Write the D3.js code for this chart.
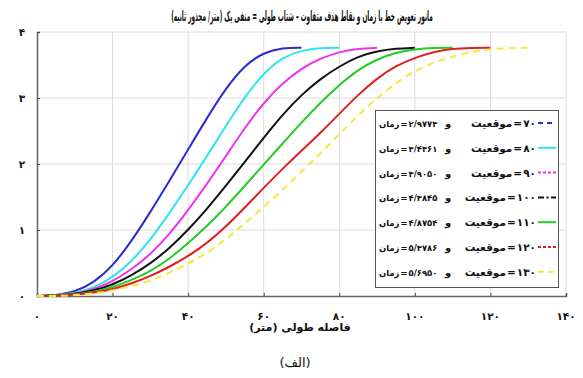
<!DOCTYPE html>
<html>
<head>
<meta charset="utf-8">
<script src="https://cdn.jsdelivr.net/npm/d3@7"></script>
<style>
    body { margin: 0; background: #fff; }
    svg { display: block; }
    .fa { font-family: "DejaVu Sans", "Noto Sans", sans-serif; font-weight: bold; fill: #111; }
</style>
</head>
<body>
<svg id="chart" width="583" height="378"></svg>
<script>
// target positions (m) and manoeuvre times (s)
const positions = [70, 80, 90, 100, 110, 120, 130];
const times = ["2/9773", "3/4361", "3/9050", "4/3845", "4/8754", "5/3786", "5/6950"];
const colors = ["#2b2bd0", "#33e3ec", "#ee33ee", "#111111", "#22cc22", "#e02020", "#f2ea3c"];

// longitudinal distance (m) read at 5 m steps, lateral offset (m) for each curve
const x70  = [0, 5, 10, 15, 20, 25, 30, 35, 40, 45, 50, 55, 60, 65, 70];
const y70  = [0, 0.01, 0.06, 0.2, 0.45, 0.83, 1.27, 1.74, 2.22, 2.7, 3.15, 3.5, 3.69, 3.76, 3.76];
const x80  = [0, 5, 10, 15, 20, 25, 30, 35, 40, 45, 50, 55, 60, 65, 70, 75, 80];
const y80  = [0, 0.01, 0.04, 0.12, 0.28, 0.52, 0.85, 1.25, 1.68, 2.12, 2.58, 3.02, 3.38, 3.62, 3.72, 3.76, 3.76];
const x90  = [0, 5, 10, 15, 20, 25, 30, 35, 40, 45, 50, 55, 60, 65, 70, 75, 80, 85, 90];
const y90  = [0, 0.01, 0.03, 0.1, 0.22, 0.4, 0.63, 0.93, 1.3, 1.7, 2.12, 2.55, 2.93, 3.23, 3.45, 3.6, 3.7, 3.75, 3.76];
const x100 = [0, 5, 10, 15, 20, 25, 30, 35, 40, 45, 50, 55, 60, 65, 70, 75, 80, 85, 90, 95, 100];
const y100 = [0, 0.01, 0.03, 0.08, 0.17, 0.31, 0.49, 0.72, 1.0, 1.32, 1.67, 2.03, 2.4, 2.75, 3.05, 3.29, 3.48, 3.63, 3.71, 3.75, 3.76];
const x110 = [0, 5, 10, 15, 20, 25, 30, 35, 40, 45, 50, 55, 60, 65, 70, 75, 80, 85, 90, 95, 100, 105, 110];
const y110 = [0, 0.01, 0.02, 0.06, 0.13, 0.24, 0.37, 0.56, 0.8, 1.06, 1.35, 1.67, 1.99, 2.31, 2.63, 2.93, 3.2, 3.43, 3.59, 3.69, 3.74, 3.76, 3.76];
const x120 = [0, 5, 10, 15, 20, 25, 30, 35, 40, 45, 50, 55, 60, 65, 70, 75, 80, 85, 90, 95, 100, 105, 110, 115, 120];
const y120 = [0, 0, 0.02, 0.05, 0.1, 0.19, 0.3, 0.44, 0.6, 0.8, 1.05, 1.34, 1.64, 1.93, 2.2, 2.47, 2.76, 3.05, 3.3, 3.49, 3.61, 3.7, 3.75, 3.76, 3.76];
const x130 = [0, 5, 10, 15, 20, 25, 30, 35, 40, 45, 50, 55, 60, 65, 70, 75, 80, 85, 90, 95, 100, 105, 110, 115, 120, 125, 130];
const y130 = [0, 0, 0.01, 0.04, 0.08, 0.15, 0.23, 0.35, 0.49, 0.65, 0.86, 1.1, 1.35, 1.61, 1.88, 2.16, 2.45, 2.74, 3.0, 3.23, 3.41, 3.54, 3.63, 3.7, 3.74, 3.76, 3.76];

const xTicks = [0, 20, 40, 60, 80, 100, 120, 140];
const yTicks = [0, 1, 2, 3, 4];

const seriesX = [x70, x80, x90, x100, x110, x120, x130];
const seriesY = [y70, y80, y90, y100, y110, y120, y130];

// dash styles: plot line / legend sample
const plotDash = [null, null, null, null, null, null, "7,5"];
const legendDash = ["5,4", null, "3,2", "6,2.5,2,2.5", null, "3,2", "6,4"];

// western digits -> persian digits
const toFa = s => String(s).replace(/[0-9]/g, d => "۰۱۲۳۴۵۶۷۸۹"[+d]);

const margin = { left: 37, right: 17, top: 32, bottom: 82 };
const width = 583, height = 378;

const svg = d3.select("#chart");

const x = d3.scaleLinear().domain([0, 140]).range([margin.left, width - margin.right]);
const y = d3.scaleLinear().domain([0, 4]).range([height - margin.bottom, margin.top]);

// grid
svg.append("g")
    .selectAll("line")
    .data(xTicks.slice(1))
    .join("line")
    .attr("x1", d => x(d)).attr("x2", d => x(d))
    .attr("y1", y(0)).attr("y2", y(4))
    .attr("stroke", "#dcdcdc").attr("stroke-width", 1);

svg.append("g")
    .selectAll("line")
    .data(yTicks.slice(1))
    .join("line")
    .attr("x1", x(0)).attr("x2", x(140))
    .attr("y1", d => y(d)).attr("y2", d => y(d))
    .attr("stroke", "#dcdcdc").attr("stroke-width", 1);

// axes (ticks inward, labels drawn separately in persian digits)
svg.append("g")
    .attr("transform", `translate(0,${y(0)})`)
    .call(d3.axisBottom(x).tickValues(xTicks).tickSize(-3).tickFormat(""))
    .call(g => g.select(".domain").attr("stroke", "#666").attr("stroke-width", 1.5))
    .call(g => g.selectAll(".tick line").attr("stroke", "#444"));

svg.append("g")
    .attr("transform", `translate(${x(0)},0)`)
    .call(d3.axisLeft(y).tickValues(yTicks).tickSize(-3).tickFormat(""))
    .call(g => g.select(".domain").attr("stroke", "#666").attr("stroke-width", 1.5))
    .call(g => g.selectAll(".tick line").attr("stroke", "#444"));

svg.selectAll("text.xt")
    .data(xTicks)
    .join("text")
    .attr("class", "fa xt")
    .attr("x", d => x(d))
    .attr("y", 320)
    .attr("text-anchor", "middle")
    .attr("font-size", 10.5)
    .text(d => toFa(d));

svg.selectAll("text.yt")
    .data(yTicks)
    .join("text")
    .attr("class", "fa yt")
    .attr("x", 22)
    .attr("y", d => y(d) + 4)
    .attr("text-anchor", "middle")
    .attr("font-size", 10.5)
    .text(d => toFa(d));

// curves
const line = d3.line()
    .x(d => x(d[0]))
    .y(d => y(d[1]))
    .curve(d3.curveBasis);

positions.forEach((p, i) => {
    const pts = seriesX[i].map((v, j) => [v, seriesY[i][j]]);
    svg.append("path")
        .datum(pts)
        .attr("d", line)
        .attr("fill", "none")
        .attr("stroke", colors[i])
        .attr("stroke-width", 2)
        .attr("stroke-dasharray", plotDash[i]);
});

// legend -- pieces laid out left to right as in the picture
const lg = svg.append("g");
lg.append("rect")
    .attr("x", 375.5).attr("y", 110.5)
    .attr("width", 183).attr("height", 177)
    .attr("fill", "#fff").attr("stroke", "#555").attr("stroke-width", 1);

function putRun(parts, xStart, yBase, anchorEnd, maxW) {
    let fs = 10.5;
    let nodes = parts.map(t => lg.append("text")
        .attr("class", "fa")
        .attr("y", yBase)
        .attr("font-size", fs)
        .text(t));
    let gap = 1;
    let widths = nodes.map(n => n.node().getComputedTextLength());
    let total = d3.sum(widths) + (parts.length - 1) * gap;
    if (total > maxW) {
        // shrink the font instead of squeezing glyphs
        fs = fs * maxW / total;
        nodes.forEach(n => n.attr("font-size", fs));
        widths = nodes.map(n => n.node().getComputedTextLength());
        total = d3.sum(widths) + (parts.length - 1) * gap;
    }
    let cx = anchorEnd ? xStart - total : xStart;
    nodes.forEach((n, j) => {
        n.attr("x", cx);
        cx += widths[j] + gap;
    });
}

positions.forEach((p, i) => {
    const ry = 123 + i * 24.8;
    putRun(["زمان", "=", toFa(times[i])], 379, ry + 4, false, 58);
    lg.append("text")
        .attr("class", "fa")
        .attr("x", 448).attr("y", ry + 4)
        .attr("text-anchor", "middle")
        .attr("font-size", 10)
        .text("و");
    putRun(["موقعیت", "=", toFa(p)], 536, ry + 4, true, 78);
    lg.append("line")
        .attr("x1", 538).attr("x2", 556)
        .attr("y1", ry).attr("y2", ry)
        .attr("stroke", colors[i])
        .attr("stroke-width", 2)
        .attr("stroke-dasharray", legendDash[i]);
});

// title, squeezed horizontally to the width it has in the picture
const title = svg.append("text")
    .attr("class", "fa")
    .attr("x", 0).attr("y", 0)
    .attr("text-anchor", "middle")
    .attr("direction", "rtl")
    .attr("font-size", 14)
    .text("مانور تعویض خط با زمان و نقاط هدف متفاوت – شتاب طولی = منفی یک (متر/ مجذور ثانیه)");
const tw = title.node().getComputedTextLength();
title.attr("transform", `translate(302,21) scale(${Math.min(1, 262 / tw)},1)`);

svg.append("text")
    .attr("class", "fa")
    .attr("x", 300).attr("y", 331)
    .attr("text-anchor", "middle")
    .attr("direction", "rtl")
    .attr("font-size", 11)
    .text("فاصله طولی (متر)");

svg.append("text")
    .attr("x", 295).attr("y", 367)
    .attr("text-anchor", "middle")
    .attr("direction", "rtl")
    .attr("font-family", "DejaVu Sans, sans-serif")
    .attr("font-size", 13)
    .attr("fill", "#111")
    .text("(الف)");
</script>
</body>
</html>
